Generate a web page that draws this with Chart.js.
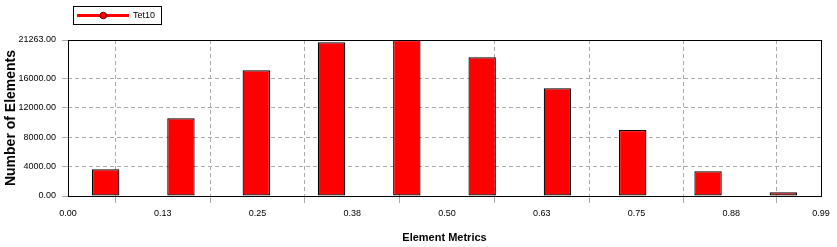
<!DOCTYPE html>
<html>
<head>
<meta charset="utf-8">
<script src="https://cdn.jsdelivr.net/npm/chart.js@4/dist/chart.umd.min.js"></script>
<style>
html,body{margin:0;padding:0;background:#fff;}
#wrap{width:837px;height:247px;position:relative;}
</style>
</head>
<body>
<div id="wrap"><canvas id="c" width="837" height="247"></canvas></div>
<script>
// ---- data ----
const seriesName = 'Tet10';
const binCenters = [0.0497, 0.1490, 0.2484, 0.3477, 0.4470, 0.5464, 0.6457, 0.7450, 0.8444, 0.9437];
const counts = [3640, 10590, 17130, 20950, 21263, 18900, 14680, 9000, 3360, 500];
const xTickValues = [0, 0.125, 0.25, 0.375, 0.5, 0.625, 0.75, 0.875, 0.9934];
const xTickLabels = ['0.00', '0.13', '0.25', '0.38', '0.50', '0.63', '0.75', '0.88', '0.99'];
const yTickValues = [0, 4000, 8000, 12000, 16000, 21263];
const yTickLabels = ['0.00', '4000.00', '8000.00', '12000.00', '16000.00', '21263.00'];
const xTitle = 'Element Metrics';
const yTitle = 'Number of Elements';

const FONT = '"Liberation Sans", Arial, sans-serif';

const points = binCenters.map((x, i) => ({x: x, y: counts[i]}));

const frameAndLegend = {
  id: 'frameAndLegend',
  afterDatasetsDraw(chart) {
    const {ctx, chartArea: a} = chart;
    ctx.save();
    ctx.strokeStyle = '#000';
    ctx.lineWidth = 1;
    ctx.strokeRect(Math.round(a.left) + 0.5, Math.round(a.top) + 0.5,
                   Math.round(a.right - a.left), Math.round(a.bottom - a.top));
    ctx.restore();
  },
  afterDraw(chart) {
    const ctx = chart.ctx;
    ctx.save();
    ctx.strokeStyle = '#000';
    ctx.lineWidth = 1;
    ctx.strokeRect(73.5, 6.5, 88, 18);
    ctx.strokeStyle = '#ff0000';
    ctx.lineWidth = 3;
    ctx.beginPath();
    ctx.moveTo(77, 15.5);
    ctx.lineTo(129, 15.5);
    ctx.stroke();
    ctx.beginPath();
    ctx.arc(103.3, 15.5, 3.3, 0, Math.PI * 2);
    ctx.fillStyle = '#ff0000';
    ctx.fill();
    ctx.lineWidth = 1;
    ctx.strokeStyle = '#600';
    ctx.stroke();
    ctx.fillStyle = '#000';
    ctx.font = '9px ' + FONT;
    ctx.textBaseline = 'middle';
    ctx.textAlign = 'left';
    ctx.fillText(seriesName, 133, 15.5);
    ctx.restore();
  }
};

new Chart(document.getElementById('c'), {
  type: 'bar',
  data: {
    datasets: [{
      label: seriesName,
      data: points,
      backgroundColor: '#ff0000',
      borderColor: '#000',
      borderWidth: 1.2,
      borderSkipped: false,
      inflateAmount: 0,
      categoryPercentage: 1,
      barPercentage: 0.364
    }]
  },
  options: {
    responsive: false,
    animation: false,
    devicePixelRatio: 1,
    layout: {padding: {left: 0, right: 16, top: 40, bottom: 0}},
    plugins: {legend: {display: false}, tooltip: {enabled: false}},
    scales: {
      x: {
        type: 'linear',
        min: 0,
        max: 0.9934,
        offset: false,
        afterBuildTicks: s => { s.ticks = xTickValues.map(v => ({value: v})); },
        afterFit: s => { s.height = 51; },
        ticks: {
          autoSkip: false,
          maxRotation: 0,
          padding: 5,
          color: '#000',
          font: {family: FONT, size: 9},
          callback: (v, i) => xTickLabels[i]
        },
        grid: {
          color: '#aaaaaa',
          tickBorderDash: [],
          tickColor: '#aaaaaa',
          tickLength: 7,
          drawTicks: true
        },
        border: {display: false, dash: [4, 3]},
        title: {
          display: true,
          text: xTitle,
          color: '#000',
          font: {family: FONT, size: 11, weight: 'bold'},
          padding: {top: 0, bottom: 2}
        }
      },
      y: {
        min: 0,
        max: 21263,
        afterBuildTicks: s => { s.ticks = yTickValues.map(v => ({value: v})); },
        afterFit: s => { s.width = 68; },
        ticks: {
          padding: 6,
          color: '#000',
          font: {family: FONT, size: 9},
          callback: (v, i) => yTickLabels[i]
        },
        grid: {
          color: '#aaaaaa',
          tickBorderDash: [],
          tickColor: '#aaaaaa',
          tickLength: 6,
          drawTicks: true
        },
        border: {display: false, dash: [4, 3]},
        title: {
          display: true,
          text: yTitle,
          color: '#000',
          font: {family: FONT, size: 14, weight: 'bold'},
          padding: {top: 2.5, bottom: 0}
        }
      }
    }
  },
  plugins: [frameAndLegend]
});
</script>
</body>
</html>
